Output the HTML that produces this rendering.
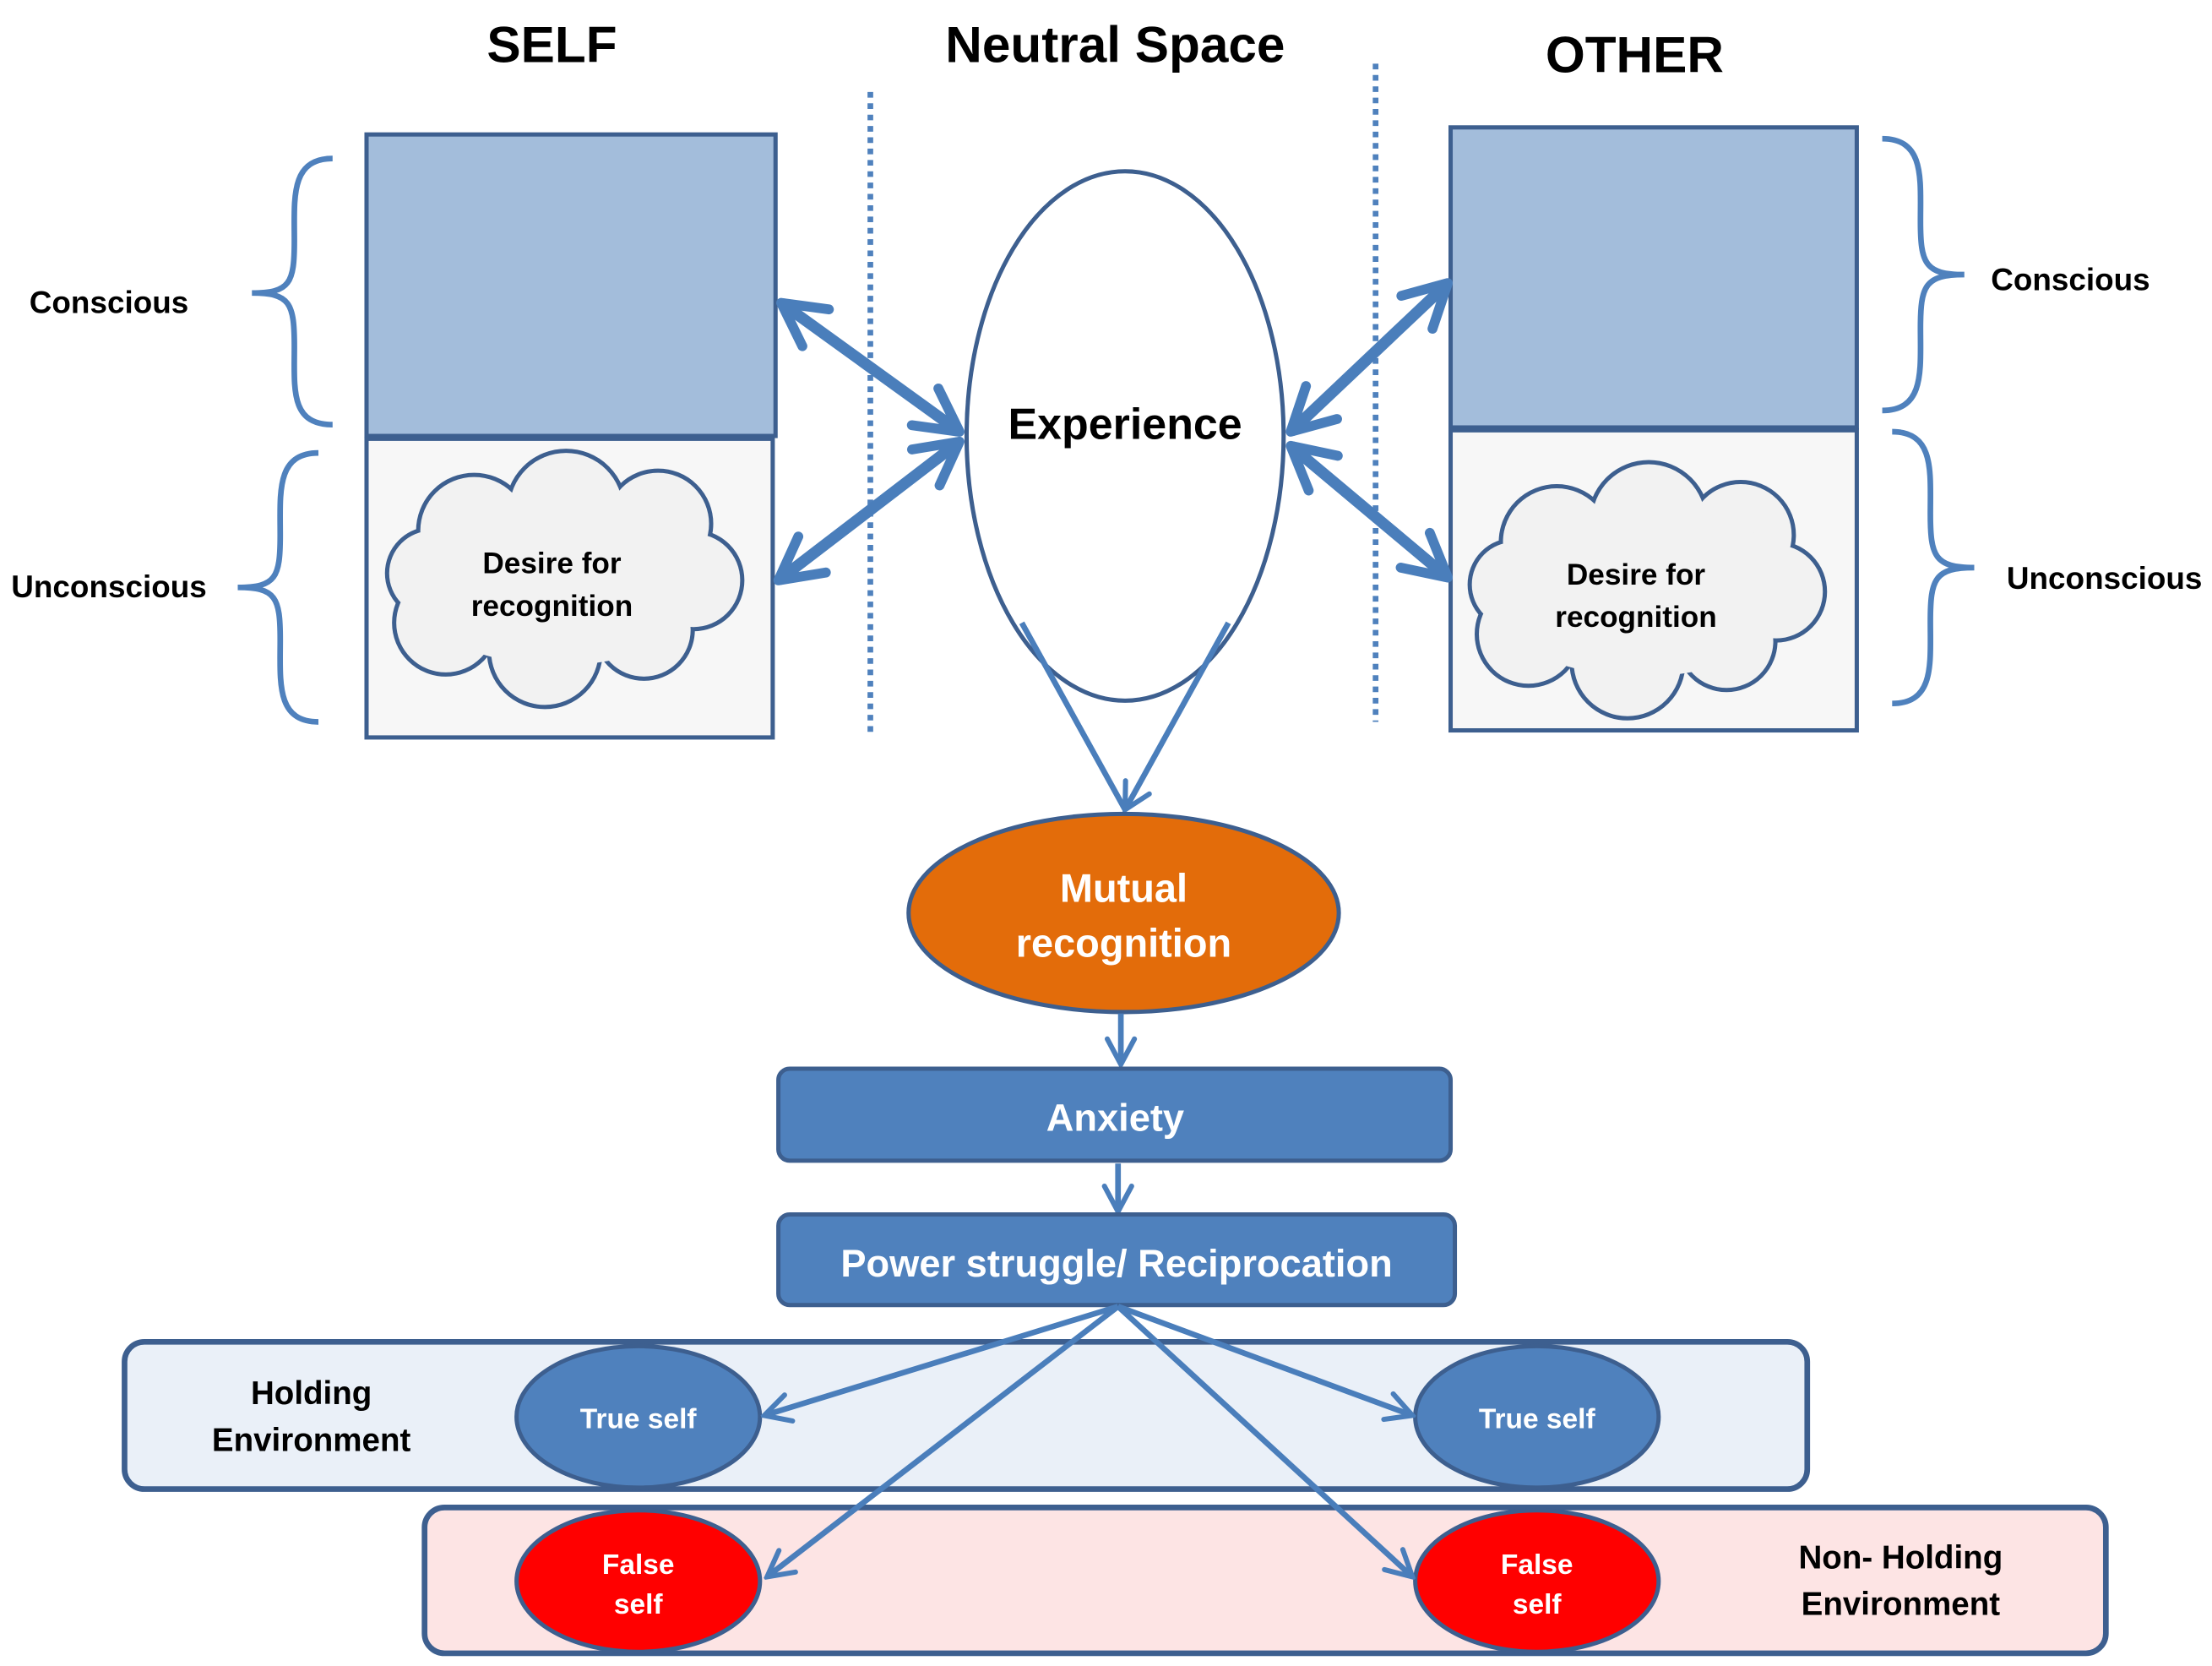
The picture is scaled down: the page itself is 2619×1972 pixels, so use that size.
<!DOCTYPE html>
<html><head><meta charset="utf-8"><style>
html,body{margin:0;padding:0;background:#fff}
svg{display:block}
text{font-family:"Liberation Sans",sans-serif;font-weight:bold}
</style></head><body>
<svg width="2619" height="1972" viewBox="0 0 1563 1177" preserveAspectRatio="none" xmlns="http://www.w3.org/2000/svg">
<defs>
<marker id="h" viewBox="0 0 20 20" refX="18" refY="10" markerWidth="5" markerHeight="5" orient="auto-start-reverse" markerUnits="strokeWidth">
<path d="M3,2 L18,10 L3,18" fill="none" stroke="#4a7ebb" stroke-width="3.5" stroke-linecap="round" stroke-linejoin="round"/>
</marker>
<marker id="s" viewBox="0 0 20 20" refX="18" refY="10" markerWidth="6" markerHeight="6" orient="auto" markerUnits="strokeWidth">
<path d="M3,2 L18,10 L3,18" fill="none" stroke="#4a7ebb" stroke-width="3" stroke-linecap="round"/>
</marker>
</defs>
<text x="390" y="44" font-size="36" text-anchor="middle">SELF</text>
<text x="788" y="44" font-size="36" text-anchor="middle">Neutral Space</text>
<text x="1155" y="51" font-size="36" text-anchor="middle">OTHER</text>
<line x1="615" y1="65" x2="615" y2="520" stroke="#4f81bd" stroke-width="4" stroke-dasharray="4,4"/>
<line x1="972" y1="45" x2="972" y2="510" stroke="#4f81bd" stroke-width="4" stroke-dasharray="4,4"/>
<g stroke="#3d5f8f" stroke-width="3">
<rect x="259" y="95" width="289" height="213" fill="#a3bddb"/>
<rect x="259" y="310" width="287" height="211" fill="#f7f7f7"/>
<rect x="1025" y="90" width="287" height="212" fill="#a3bddb"/>
<rect x="1025" y="304" width="287" height="212" fill="#f7f7f7"/>
</g>
<g fill="none" stroke="#4f81bd" stroke-width="4">
<path d="M235,112 C205,112 208,140 208,170 C208,200 205,207 178,207 C205,207 208,214 208,245 C208,275 205,300 235,300"/>
<path d="M225,320 C195,320 198,348 198,378 C198,408 195,415 168,415 C195,415 198,422 198,452 C198,482 195,510 225,510"/>
<path d="M1330,98 C1360,98 1357,126 1357,156 C1357,186 1360,194 1388,194 C1360,194 1357,202 1357,232 C1357,262 1360,290 1330,290"/>
<path d="M1337,305 C1367,305 1364,333 1364,363 C1364,393 1367,401 1395,401 C1367,401 1364,409 1364,439 C1364,469 1367,497 1337,497"/>
</g>
<text x="77" y="221" font-size="22" text-anchor="middle">Conscious</text>
<text x="77" y="422" font-size="22" text-anchor="middle">Unconscious</text>
<text x="1463" y="205" font-size="22" text-anchor="middle">Conscious</text>
<text x="1487" y="416" font-size="22" text-anchor="middle">Unconscious</text>
<g id="c1">
<g fill="none" stroke="#3d5f8f" stroke-width="6">
<circle cx="335" cy="375" r="38"/><circle cx="400" cy="360" r="40"/><circle cx="465" cy="370" r="36"/><circle cx="490" cy="410" r="33"/><circle cx="455" cy="445" r="33"/><circle cx="385" cy="460" r="38"/><circle cx="315" cy="440" r="35"/><circle cx="305" cy="405" r="30"/>
</g>
<g fill="#f2f2f2">
<circle cx="335" cy="375" r="38"/><circle cx="400" cy="360" r="40"/><circle cx="465" cy="370" r="36"/><circle cx="490" cy="410" r="33"/><circle cx="455" cy="445" r="33"/><circle cx="385" cy="460" r="38"/><circle cx="315" cy="440" r="35"/><circle cx="305" cy="405" r="30"/><ellipse cx="395" cy="410" rx="110" ry="60"/>
</g>
</g>
<use href="#c1" transform="translate(765,8)"/>
<text x="390" y="405" font-size="21" text-anchor="middle">Desire for</text>
<text x="390" y="435" font-size="21" text-anchor="middle">recognition</text>
<text x="1156" y="413" font-size="21" text-anchor="middle">Desire for</text>
<text x="1156" y="443" font-size="21" text-anchor="middle">recognition</text>
<ellipse cx="795" cy="308" rx="112" ry="187" fill="#fff" stroke="#3d5f8f" stroke-width="3"/>
<text x="795" y="310" font-size="31" text-anchor="middle">Experience</text>
<g stroke="#4a7ebb" stroke-width="8" fill="none">
<line x1="552" y1="214" x2="678" y2="305" marker-start="url(#h)" marker-end="url(#h)"/>
<line x1="550" y1="410" x2="678" y2="312" marker-start="url(#h)" marker-end="url(#h)"/>
<line x1="1023" y1="200" x2="912" y2="305" marker-start="url(#h)" marker-end="url(#h)"/>
<line x1="912" y1="315" x2="1023" y2="408" marker-start="url(#h)" marker-end="url(#h)"/>
</g>
<g stroke="#4a7ebb" stroke-width="4" fill="none">
<line x1="722" y1="440" x2="795" y2="572"/>
<line x1="868" y1="440" x2="795" y2="572" marker-end="url(#s)"/>
</g>
<ellipse cx="794" cy="645" rx="152" ry="70" fill="#e36c0a" stroke="#3d5f8f" stroke-width="3"/>
<text x="794" y="637" font-size="28" fill="#fff" text-anchor="middle">Mutual</text>
<text x="794" y="676" font-size="28" fill="#fff" text-anchor="middle">recognition</text>
<g stroke="#4a7ebb" stroke-width="4" fill="none">
<line x1="792" y1="716" x2="792" y2="752" marker-end="url(#s)"/>
<line x1="790" y1="822" x2="790" y2="856" marker-end="url(#s)"/>
</g>
<rect x="550" y="755" width="475" height="65" rx="8" fill="#4f81bd" stroke="#3d5f8f" stroke-width="3"/>
<text x="788" y="799" font-size="27" fill="#fff" text-anchor="middle">Anxiety</text>
<rect x="550" y="858" width="478" height="64" rx="8" fill="#4f81bd" stroke="#3d5f8f" stroke-width="3"/>
<text x="789" y="902" font-size="27" fill="#fff" text-anchor="middle">Power struggle/ Reciprocation</text>
<rect x="88" y="948" width="1189" height="104" rx="14" fill="#eaf0f8" stroke="#3d5f8f" stroke-width="4"/>
<rect x="300" y="1065" width="1188" height="103" rx="14" fill="#fde4e4" stroke="#3d5f8f" stroke-width="4"/>
<text x="220" y="992" font-size="23" text-anchor="middle">Holding</text>
<text x="220" y="1025" font-size="23" text-anchor="middle">Environment</text>
<text x="1343" y="1108" font-size="23" text-anchor="middle">Non- Holding</text>
<text x="1343" y="1141" font-size="23" text-anchor="middle">Environment</text>
<g stroke="#3d5f8f" stroke-width="3">
<ellipse cx="451" cy="1001" rx="86" ry="50" fill="#4f81bd"/>
<ellipse cx="1086" cy="1001" rx="86" ry="50" fill="#4f81bd"/>
<ellipse cx="451" cy="1117" rx="86" ry="50" fill="#ff0000"/>
<ellipse cx="1086" cy="1117" rx="86" ry="50" fill="#ff0000"/>
</g>
<text x="451" y="1009" font-size="20" fill="#fff" text-anchor="middle">True self</text>
<text x="1086" y="1009" font-size="20" fill="#fff" text-anchor="middle">True self</text>
<text x="451" y="1112" font-size="20" fill="#fff" text-anchor="middle">False</text>
<text x="451" y="1140" font-size="20" fill="#fff" text-anchor="middle">self</text>
<text x="1086" y="1112" font-size="20" fill="#fff" text-anchor="middle">False</text>
<text x="1086" y="1140" font-size="20" fill="#fff" text-anchor="middle">self</text>
<g stroke="#4a7ebb" stroke-width="4" fill="none">
<line x1="790" y1="923" x2="540" y2="1000" marker-end="url(#s)"/>
<line x1="790" y1="923" x2="998" y2="1000" marker-end="url(#s)"/>
<line x1="790" y1="923" x2="542" y2="1114" marker-end="url(#s)"/>
<line x1="790" y1="923" x2="998" y2="1114" marker-end="url(#s)"/>
</g>
</svg>
</body></html>
